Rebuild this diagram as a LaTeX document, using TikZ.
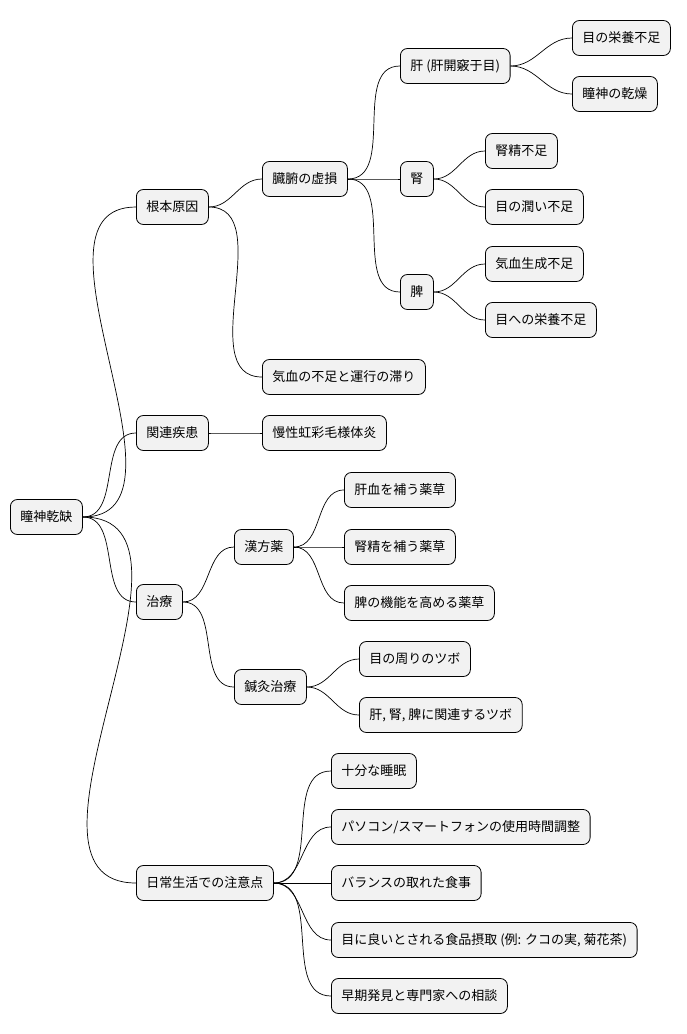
\documentclass[tikz,border=0pt]{standalone}
\usepackage{fontspec}
\setmainfont{Noto Sans CJK JP}
\begin{document}
\begin{tikzpicture}[x=1pt,y=-1pt,
  box/.style={draw=black,line width=0.8pt,fill=gray!10,rounded corners=7pt,anchor=west,minimum height=35pt,inner xsep=10pt,font=\fontsize{13}{15}\selectfont},
  link/.style={draw=black,line width=0.7pt}]
\useasboundingbox (0,0) rectangle (686,1034);
\node[box] (r) at (10,517) {瞳神乾缺};
\node[box] (a) at (136,207) {根本原因};
\node[box] (a1) at (262,179) {臓腑の虚損};
\node[box] (a11) at (400,66) {肝 (肝開竅于目)};
\node[box] (a111) at (572,38) {目の栄養不足};
\node[box] (a112) at (572,94) {瞳神の乾燥};
\node[box] (a12) at (400,179) {腎};
\node[box] (a121) at (485,151) {腎精不足};
\node[box] (a122) at (485,207) {目の潤い不足};
\node[box] (a13) at (400,292) {脾};
\node[box] (a131) at (485,264) {気血生成不足};
\node[box] (a132) at (485,320) {目への栄養不足};
\node[box] (a2) at (262,377) {気血の不足と運行の滞り};
\node[box] (b) at (136,433) {関連疾患};
\node[box] (b1) at (262,433) {慢性虹彩毛様体炎};
\node[box] (c) at (136,602) {治療};
\node[box] (c1) at (234,547) {漢方薬};
\node[box] (c11) at (344,490) {肝血を補う薬草};
\node[box] (c12) at (344,547) {腎精を補う薬草};
\node[box] (c13) at (344,603) {脾の機能を高める薬草};
\node[box] (c2) at (234,687) {鍼灸治療};
\node[box] (c21) at (359,659) {目の周りのツボ};
\node[box] (c22) at (359,715) {肝, 腎, 脾に関連するツボ};
\node[box] (d) at (136,883) {日常生活での注意点};
\node[box] (d1) at (331,771) {十分な睡眠};
\node[box] (d2) at (331,827) {パソコン/スマートフォンの使用時間調整};
\node[box] (d3) at (331,883) {バランスの取れた食事};
\node[box] (d4) at (331,940) {目に良いとされる食品摂取 (例: クコの実, 菊花茶)};
\node[box] (d5) at (331,996) {早期発見と専門家への相談};
\foreach \p/\c in {r/a,r/b,r/c,r/d,a/a1,a/a2,a1/a11,a1/a12,a1/a13,a11/a111,a11/a112,a12/a121,a12/a122,a13/a131,a13/a132,b/b1,c/c1,c/c2,c1/c11,c1/c12,c1/c13,c2/c21,c2/c22,d/d1,d/d2,d/d3,d/d4,d/d5}
  \draw[link] (\p.east) to[out=0,in=180] (\c.west);
\end{tikzpicture}
\end{document}
